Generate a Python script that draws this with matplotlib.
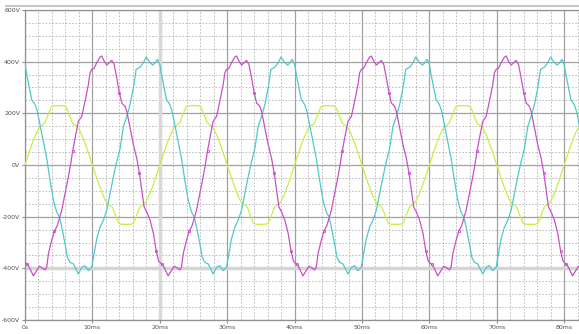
import numpy as np
import matplotlib.pyplot as plt
from matplotlib.lines import Line2D

# one 20 ms period of each trace (ms, volts)
periodMs = 20

greenT = [0, 0.5, 1.0, 1.5, 2.0, 2.3, 2.7, 3.0, 3.5, 3.9, 4.2, 5.0, 5.8, 6.1, 6.5, 7.0, 7.3, 7.7, 8.0, 8.5, 9.0, 9.5,
          10, 10.5, 11.0, 11.5, 12.0, 12.3, 12.7, 13.0, 13.5, 13.9, 14.2, 15.0, 15.8, 16.1, 16.5, 17.0, 17.3, 17.7, 18.0, 18.5, 19.0, 19.5]
greenV = [0, 40, 78, 112, 140, 150, 157, 165, 200, 225, 229, 230, 229, 225, 200, 165, 157, 150, 140, 112, 78, 40,
          0, -40, -78, -112, -140, -150, -157, -165, -200, -225, -229, -230, -229, -225, -200, -165, -157, -150, -140, -112, -78, -40]

magentaT = [0, 0.34, 0.64, 1.24, 1.73, 2.13, 2.62, 2.97, 3.22, 3.47, 3.96, 4.36, 4.80, 5.45, 5.94, 6.44, 6.75, 7.08, 7.43,
            7.92, 8.42, 8.91, 9.41, 9.65, 9.90, 10.25, 10.64, 11.14, 11.39, 11.73, 12.13, 12.52, 12.87, 13.22, 13.61,
            14.01, 14.36, 14.85, 15.10, 15.59, 16.09, 16.58, 16.98, 17.33, 17.67, 18.07, 18.56, 19.06, 19.46, 19.80]
magentaV = [-377, -385, -396, -429, -409, -392, -399, -406, -396, -344, -292, -256, -234, -175, -110, -45, 0, 55, 104,
            169, 188, 247, 312, 357, 370, 374, 396, 418, 422, 403, 387, 396, 405, 390, 338,
            279, 240, 227, 208, 143, 78, 26, -32, -97, -162, -182, -214, -266, -331, -370]
magentaMarkT = [0.34, 4.36, 7.08, 14.01, 16.98, 19.46]

cyanT = [0, 0.25, 0.64, 0.99, 1.49, 1.83, 2.23, 2.72, 3.22, 3.71, 4.21, 4.70, 5.10, 5.45, 5.94, 6.29, 6.68, 7.18, 7.92,
         8.42, 8.91, 9.41, 9.90, 10.25, 10.64, 11.14, 11.63, 12.13, 12.62, 13.12, 13.55, 14.11, 14.60, 15.10, 15.59,
         16.09, 16.49, 17.08, 17.57, 17.97, 18.56, 18.96, 19.30, 19.65]
cyanV = [390, 351, 299, 253, 234, 208, 156, 91, 26, -58, -136, -182, -201, -240, -305, -357, -377, -383, -422,
         -396, -390, -409, -396, -344, -286, -240, -214, -175, -110, -45, 6, 65, 149, 188, 234,
         299, 370, 379, 396, 418, 396, 387, 395, 409]

yTicks = [-600, -400, -200, 0, 200, 400, 600]
yLabels = ["-600V", "-400V", "-200V", "0V", "200V", "400V", "600V"]
xTicks = [0, 10, 20, 30, 40, 50, 60, 70, 80]
xLabels = ["0s", "10ms", "20ms", "30ms", "40ms", "50ms", "60ms", "70ms", "80ms"]


def repeatPeriod(t, v, n=5):
    # the simulated traces are periodic, so lay the read period end to end
    tt = np.concatenate([np.array(t) + k * periodMs for k in range(n)])
    vv = np.tile(np.array(v, dtype=float), n)
    return tt, vv


fig = plt.figure(figsize=(5.79, 3.34), dpi=100)
ax = fig.add_axes([25 / 579, 14 / 334, 1 - 25 / 579, 310 / 334])

gT, gV = repeatPeriod(greenT, greenV)
mT, mV = repeatPeriod(magentaT, magentaV)
cT, cV = repeatPeriod(cyanT, cyanV)
markMask = np.isin(np.round(mT % periodMs, 2), magentaMarkT)

ax.plot(gT, gV, color="#c4f044", lw=0.9, zorder=3)
ax.plot(cT, cV, color="#50c8cc", lw=0.9, zorder=3)
ax.plot(mT, mV, color="#c850c8", lw=0.9, zorder=4)
ax.plot(mT[markMask], mV[markMask], "s", mfc="none", mec="#c850c8", ms=1.8, mew=0.6, zorder=4)

ax.set_xlim(0, 82.2)
ax.set_ylim(-600, 600)

ax.set_xticks(xTicks)
ax.set_xticklabels(xLabels)
ax.set_yticks(yTicks)
ax.set_yticklabels(yLabels)
ax.set_xticks(np.arange(0, 84, 2), minor=True)
ax.set_yticks(np.arange(-600, 601, 50), minor=True)

ax.grid(which="major", color="#a0a0a0", lw=0.9, ls="-", zorder=0)
ax.grid(which="minor", color="#b4b4b4", lw=0.6, ls=(0, (2, 2)), zorder=0)
ax.set_axisbelow(True)

# cursor-like light bands
ax.axvline(20, color="#d8d8d8", lw=2.5, zorder=1)
ax.axhline(-400, color="#d4d4d4", lw=2.5, zorder=1)

ax.tick_params(which="major", length=2, width=0.8, color="#909090", labelsize=4.5, labelcolor="#505050", pad=1.5)
ax.tick_params(which="minor", length=0)

for s in ["left", "bottom", "top"]:
    ax.spines[s].set_color("#909090")
    ax.spines[s].set_linewidth(0.9)
ax.spines["right"].set_visible(False)

fig.add_artist(Line2D([0.01, 1], [1 - 6 / 334, 1 - 6 / 334], color="#c8c8c8", lw=1.5))

fig.savefig("out.png", dpi=100)
